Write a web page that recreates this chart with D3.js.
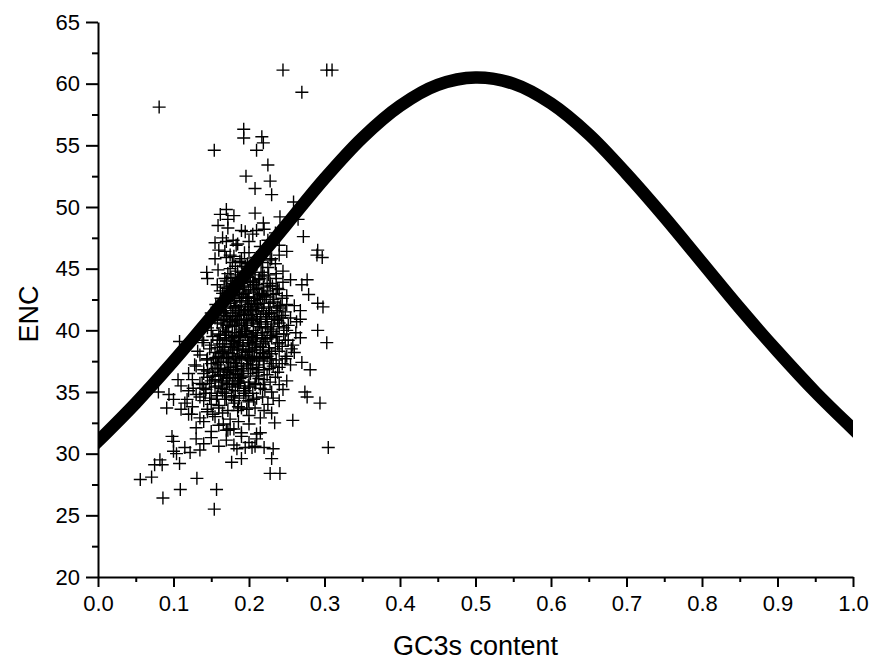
<!DOCTYPE html>
<html>
<head>
<meta charset="utf-8">
<title>ENC plot</title>
<script src="https://d3js.org/d3.v7.min.js"></script>
<style>
  body { margin: 0; background: #fff; }
  text { font-family: "Liberation Sans", Arial, sans-serif; fill: #000; }
</style>
</head>
<body>
<svg width="869" height="661"></svg>
<script>
// expected ENC curve, every 0.05 of GC3s
var curveGC = [0,0.05,0.1,0.15,0.2,0.25,0.3,0.35,0.4,0.45,0.5,0.55,0.6,0.65,0.7,0.75,0.8,0.85,0.9,0.95,1.0];
var curveENC = [31.0,34.1,37.5,41.1,44.9,48.6,52.3,55.6,58.2,59.9,60.5,60.0,58.4,55.9,52.7,49.2,45.5,41.8,38.3,35.0,32.0];

// genes outside the dense cloud: [GC3s, ENC]
var sparseGenes = [
  [0.245,61.1],[0.303,61.1],[0.310,61.1],[0.270,59.3],[0.081,58.1],[0.193,56.3],[0.193,55.6],[0.217,55.7],
  [0.219,55.2],[0.210,54.6],[0.154,54.6],[0.225,53.4],[0.196,52.5],[0.228,52.1],[0.208,51.5],[0.230,51.0],
  [0.259,50.4],[0.170,49.8],[0.162,49.4],[0.208,49.5],[0.172,49.0],[0.159,48.5],[0.241,49.2],[0.265,49.0],
  [0.219,48.7],[0.210,48.1],[0.195,48.0],[0.272,47.6],[0.155,47.1],[0.179,47.3],[0.183,46.9],[0.291,46.5],
  [0.290,46.1],[0.297,45.9],[0.168,46.4],[0.170,45.9],[0.144,44.7],[0.159,44.9],[0.277,44.1],[0.270,43.7],
  [0.279,42.9],[0.158,43.7],
  [0.056,27.9],[0.071,28.1],[0.075,29.1],[0.085,29.1],[0.086,26.4],[0.109,27.1],[0.131,28.0],[0.157,27.1],
  [0.154,25.5],[0.228,28.4],[0.241,28.4],[0.230,29.6],[0.232,30.4],[0.177,29.3],[0.190,29.6],[0.195,30.5],
  [0.204,30.5],[0.208,30.6],[0.184,30.4],[0.215,31.7],[0.234,32.5],[0.258,32.7],[0.305,30.5],[0.294,34.1],
  [0.274,35.0],[0.277,34.6],[0.270,37.4],[0.281,36.8],[0.291,40.0],[0.303,39.0],[0.291,42.2],[0.298,41.9],
  [0.268,41.6],[0.263,40.7],[0.268,39.4],[0.082,29.5],[0.098,31.4],[0.091,33.7],[0.094,34.8],[0.080,35.0],
  [0.106,36.0],[0.108,39.1],[0.104,30.0],[0.122,30.1],[0.135,30.3],[0.108,29.2],
  [0.155,45.8],[0.160,46.5],[0.165,47.5],[0.172,48.3],[0.145,44.2],[0.180,49.3],[0.175,46.1]
];

// genes in the dense cloud: [GC3s, ENC]
var cloudGenes = [
  [0.10,31.0],[0.115,30.5],[0.13,31.2],[0.14,30.8],[0.15,31.3],[0.16,30.6],[0.17,31.1],[0.18,30.7],[0.19,31.4],
  [0.20,30.9],[0.21,31.2],[0.22,30.5],[0.10,30.2],
  [0.13,32.1],[0.15,31.8],[0.16,32.3],[0.17,31.9],[0.18,32.0],[0.19,31.7],[0.20,32.4],[0.21,31.6],[0.14,32.6],
  [0.175,32.0],[0.172,31.9],
  [0.12,33.2],[0.135,32.9],[0.145,33.4],[0.155,33.0],[0.165,33.3],[0.175,32.8],[0.185,33.5],[0.20,33.1],
  [0.215,32.9],[0.23,33.3],[0.11,33.6],
  [0.145,33.6],[0.16,33.7],[0.172,33.5],[0.186,33.8],[0.197,33.6],[0.208,33.7],[0.22,33.5],
  [0.115,34.1],[0.125,33.8],[0.14,34.3],[0.15,34.0],[0.16,33.9],[0.17,34.4],[0.18,34.1],[0.19,33.7],[0.20,34.2],
  [0.21,34.5],[0.225,34.0],[0.24,34.3],[0.10,34.4],
  [0.135,34.6],[0.148,34.5],[0.158,34.7],[0.168,34.4],[0.177,34.6],[0.187,34.5],[0.196,34.7],[0.206,34.4],
  [0.218,34.6],[0.232,34.5],
  [0.12,35.1],[0.13,34.8],[0.14,35.3],[0.15,34.9],[0.155,35.4],[0.165,35.0],[0.17,35.2],[0.18,34.7],[0.185,35.5],
  [0.195,35.1],[0.205,34.9],[0.215,35.3],[0.23,35.0],[0.245,35.2],[0.11,35.5],
  [0.143,35.2],[0.163,35.3],[0.182,35.1],[0.201,35.4],[0.221,35.2],
  [0.138,35.6],[0.148,35.7],[0.16,35.5],[0.171,35.7],[0.178,35.6],[0.189,35.8],[0.199,35.5],[0.209,35.7],
  [0.219,35.6],[0.228,35.8],[0.24,35.6],
  [0.125,36.0],[0.135,35.7],[0.145,36.2],[0.15,35.9],[0.16,36.3],[0.165,35.8],[0.17,36.1],[0.175,36.4],[0.18,35.9],
  [0.19,36.2],[0.20,35.8],[0.21,36.3],[0.22,36.0],[0.235,36.2],[0.25,35.9],[0.155,36.0],
  [0.14,36.5],[0.152,36.6],[0.162,36.4],[0.172,36.6],[0.182,36.5],[0.192,36.7],[0.202,36.5],[0.212,36.6],
  [0.224,36.4],[0.238,36.6],[0.145,36.7],[0.185,36.4],
  [0.13,37.1],[0.14,36.8],[0.15,37.3],[0.155,36.9],[0.16,37.2],[0.168,36.7],[0.175,37.0],[0.18,37.4],[0.185,36.8],
  [0.19,37.1],[0.197,37.3],[0.205,36.9],[0.21,37.2],[0.22,36.8],[0.23,37.3],[0.24,37.0],[0.255,37.2],
  [0.158,36.9],[0.176,37.0],[0.193,36.9],[0.213,37.0],[0.227,36.9],
  [0.144,37.6],[0.153,37.7],[0.163,37.5],[0.172,37.7],[0.182,37.6],[0.19,37.8],[0.20,37.6],[0.21,37.7],
  [0.219,37.5],[0.228,37.7],[0.236,37.6],[0.248,37.7],
  [0.166,37.8],[0.187,37.9],[0.205,37.8],[0.224,37.9],
  [0.135,38.0],[0.145,37.7],[0.155,38.2],[0.16,37.9],[0.165,38.3],[0.17,37.8],[0.178,38.1],[0.185,38.4],[0.19,37.7],
  [0.195,38.0],[0.20,38.3],[0.207,37.9],[0.215,38.2],[0.22,37.8],[0.23,38.1],[0.24,38.3],[0.25,37.9],[0.26,38.2],
  [0.148,38.5],[0.158,38.6],[0.168,38.4],[0.176,38.6],[0.184,38.5],[0.192,38.7],[0.201,38.5],[0.21,38.6],
  [0.218,38.4],[0.226,38.6],[0.235,38.5],[0.244,38.7],[0.256,38.5],
  [0.14,39.0],[0.15,38.8],[0.158,39.2],[0.165,38.9],[0.17,39.3],[0.175,38.7],[0.18,39.1],[0.187,39.4],[0.192,38.8],
  [0.198,39.2],[0.205,38.9],[0.21,39.3],[0.215,38.7],[0.222,39.1],[0.23,39.4],[0.238,38.9],[0.248,39.2],[0.258,38.8],
  [0.161,38.9],[0.181,38.9],[0.20,39.0],[0.219,38.9],[0.24,39.0],
  [0.152,39.5],[0.162,39.6],[0.17,39.4],[0.178,39.6],[0.186,39.5],[0.195,39.7],[0.203,39.5],[0.211,39.6],
  [0.22,39.4],[0.228,39.6],[0.236,39.5],[0.246,39.7],
  [0.173,39.8],[0.191,39.9],[0.209,39.8],[0.229,39.9],
  [0.15,40.0],[0.16,39.7],[0.165,40.2],[0.17,39.9],[0.178,40.3],[0.183,39.8],[0.19,40.1],[0.195,40.4],[0.20,39.7],
  [0.206,40.0],[0.212,40.3],[0.218,39.8],[0.225,40.2],[0.232,39.9],[0.24,40.3],[0.25,40.0],[0.262,39.8],
  [0.158,40.6],[0.166,40.5],[0.174,40.7],[0.181,40.5],[0.19,40.6],[0.198,40.4],[0.206,40.6],[0.214,40.5],
  [0.222,40.7],[0.23,40.5],[0.24,40.6],[0.252,40.4],
  [0.155,41.0],[0.163,40.8],[0.17,41.2],[0.176,40.7],[0.182,41.1],[0.188,41.4],[0.193,40.8],[0.20,41.2],[0.205,40.9],
  [0.21,41.3],[0.216,40.7],[0.222,41.1],[0.23,41.4],[0.238,40.8],[0.245,41.2],[0.255,41.0],[0.268,40.9],
  [0.167,40.9],[0.185,40.9],[0.203,41.0],[0.224,40.9],[0.243,41.0],
  [0.16,41.5],[0.169,41.6],[0.178,41.4],[0.186,41.6],[0.194,41.5],[0.202,41.7],[0.21,41.5],[0.219,41.6],
  [0.227,41.4],[0.236,41.6],[0.248,41.5],
  [0.18,41.8],[0.198,41.9],[0.217,41.8],[0.238,41.9],
  [0.16,42.0],[0.168,41.8],[0.175,42.2],[0.182,41.9],[0.188,42.3],[0.195,41.7],[0.20,42.1],[0.207,42.4],[0.213,41.8],
  [0.22,42.2],[0.226,41.9],[0.233,42.3],[0.24,41.8],[0.25,42.1],[0.26,42.0],
  [0.163,42.6],[0.172,42.5],[0.181,42.7],[0.19,42.6],[0.198,42.4],[0.206,42.6],[0.215,42.5],[0.223,42.7],
  [0.232,42.5],[0.244,42.6],
  [0.165,43.0],[0.172,42.8],[0.18,43.2],[0.187,42.9],[0.193,43.3],[0.20,42.7],[0.206,43.1],[0.212,43.4],[0.218,42.8],
  [0.225,43.2],[0.232,42.9],[0.24,43.3],[0.25,42.8],
  [0.177,42.9],[0.196,43.0],[0.214,42.9],[0.236,43.0],
  [0.167,43.5],[0.176,43.6],[0.185,43.4],[0.194,43.6],[0.202,43.5],[0.21,43.7],[0.219,43.5],[0.228,43.6],[0.238,43.4],
  [0.19,43.8],[0.206,43.9],[0.224,43.8],
  [0.17,44.0],[0.178,43.8],[0.185,44.2],[0.192,43.9],[0.20,44.3],[0.206,43.7],[0.213,44.1],[0.22,44.4],[0.228,43.8],
  [0.236,44.2],[0.245,43.9],[0.255,44.1],
  [0.172,44.6],[0.182,44.5],[0.191,44.7],[0.20,44.6],[0.208,44.5],[0.216,44.7],[0.226,44.5],[0.236,44.6],
  [0.175,45.0],[0.185,44.8],[0.195,45.2],[0.203,44.9],[0.21,45.3],[0.218,44.7],[0.225,45.1],[0.235,45.4],[0.245,44.8],
  [0.19,45.5],
  [0.178,45.5],[0.188,45.6],[0.198,45.4],[0.208,45.6],[0.218,45.5],[0.228,45.7],
  [0.18,46.0],[0.19,45.8],[0.20,46.3],[0.21,45.9],[0.22,46.2],[0.23,45.8],[0.24,46.1],[0.25,46.4],
  [0.185,47.0],[0.20,47.2],[0.215,46.8],[0.225,47.3],[0.24,46.9],[0.17,47.2],
  [0.19,48.1],[0.205,47.8],[0.22,48.2],[0.235,47.9],
  [0.128,37.2],[0.132,38.3],[0.138,39.2],[0.145,40.2],[0.15,41.4],[0.156,42.1],[0.162,43.2],[0.168,44.2],
  [0.12,36.5],[0.126,35.3],[0.118,34.4],[0.124,33.2],[0.142,34.9],[0.152,33.2],[0.166,32.4],[0.186,32.6],
  // the darkest part of the cloud
  [0.164,35.9],[0.171,36.8],[0.178,35.4],[0.183,37.3],[0.188,36.1],[0.194,35.3],[0.199,36.9],[0.204,37.5],
  [0.167,38.7],[0.173,37.4],[0.179,38.9],[0.184,37.1],[0.189,39.6],[0.196,38.2],[0.202,37.2],[0.208,38.8],
  [0.171,40.4],[0.177,39.2],[0.183,40.8],[0.188,39.0],[0.194,40.2],[0.199,41.6],[0.205,39.4],[0.211,40.9],
  [0.176,41.9],[0.181,42.4],[0.187,41.2],[0.192,42.9],[0.197,40.9],[0.203,42.2],[0.209,41.9],[0.215,41.1],
  [0.181,43.7],[0.187,43.1],[0.193,44.4],[0.199,43.2],[0.205,44.0],[0.211,42.1],[0.217,43.0],[0.223,41.3],
  [0.158,37.4],[0.163,38.1],[0.168,39.6],[0.174,36.2],[0.179,36.7],[0.186,35.9],[0.191,38.4],[0.197,39.9],
  [0.203,40.8],[0.209,39.1],[0.214,37.6],[0.219,38.1],[0.224,39.3],[0.229,40.1],[0.213,36.1],[0.208,35.6],
  [0.168,34.9],[0.174,35.6],[0.181,34.3],[0.187,35.7],[0.193,34.9],[0.199,34.3],[0.162,36.9],[0.156,37.8],
  [0.172,41.1],[0.178,42.8],[0.184,42.0],[0.19,41.9],[0.196,42.7],[0.202,43.9],[0.208,43.3],[0.214,44.2],
  [0.216,40.2],[0.221,42.8],[0.226,41.6],[0.231,43.6],[0.234,40.9],[0.227,38.3],[0.232,37.1],[0.237,39.7],
  [0.152,36.3],[0.157,34.4],[0.161,39.2],[0.166,41.4],[0.171,43.4],[0.176,44.3],[0.182,45.2],[0.194,46.3],
  [0.166,36.4],[0.173,38.2],[0.18,37.9],[0.186,38.8],[0.192,36.3],[0.198,37.7],[0.204,38.4],[0.21,36.8],
  [0.169,39.9],[0.175,40.9],[0.181,39.5],[0.187,40.4],[0.193,41.3],[0.199,38.9],[0.205,41.6],[0.211,42.7],
  [0.217,39.4],[0.222,40.3],[0.228,42.2],[0.233,41.1],[0.242,42.0],[0.246,40.2],[0.252,39.2],[0.244,37.3]
];

var xTicks = [0,0.1,0.2,0.3,0.4,0.5,0.6,0.7,0.8,0.9,1.0];
var xMinor = [0.05,0.15,0.25,0.35,0.45,0.55,0.65,0.75,0.85,0.95];
var yTicks = [20,25,30,35,40,45,50,55,60,65];
var yMinor = [22.5,27.5,32.5,37.5,42.5,47.5,52.5,57.5,62.5];

var svg = d3.select("svg"),
    margin = {top: 22, right: 16, bottom: 84, left: 98},
    width = +svg.attr("width") - margin.left - margin.right,
    height = +svg.attr("height") - margin.top - margin.bottom,
    g = svg.append("g").attr("transform", "translate(" + margin.left + "," + margin.top + ")");

var x = d3.scaleLinear().domain([0, 1]).range([0, width]);
var y = d3.scaleLinear().domain([20, 65]).range([height, 0]);

// scatter of genes drawn as plus signs
var genes = sparseGenes.concat(cloudGenes);
g.append("g")
  .selectAll("path")
  .data(genes)
  .enter().append("path")
    .attr("d", "M-6.5,0H6.5M0,-6.5V6.5")
    .attr("transform", function(d) { return "translate(" + x(d[0]) + "," + y(d[1]) + ")"; })
    .attr("stroke", "#000")
    .attr("stroke-width", 1.4)
    .attr("fill", "none");

// expected curve, clipped to the x range so the ends are cut straight
g.append("clipPath").attr("id", "clip")
  .append("rect").attr("x", 0).attr("y", -20).attr("width", width).attr("height", height + 40);

var line = d3.line()
  .x(function(d, i) { return x(curveGC[i]); })
  .y(function(d) { return y(d); })
  .curve(d3.curveCatmullRom);

g.append("path")
  .datum(curveENC)
  .attr("clip-path", "url(#clip)")
  .attr("d", line)
  .attr("fill", "none")
  .attr("stroke", "#000")
  .attr("stroke-width", 12.5)
  .attr("stroke-linecap", "square");

// axes
var xAxis = g.append("g")
  .attr("transform", "translate(0," + height + ")")
  .call(d3.axisBottom(x).tickValues(xTicks).tickSize(10).tickSizeOuter(0).tickPadding(8).tickFormat(d3.format(".1f")));
g.append("g")
  .attr("transform", "translate(0," + height + ")")
  .call(d3.axisBottom(x).tickValues(xMinor).tickSize(5).tickSizeOuter(0).tickFormat(""))
  .select(".domain").remove();

var yAxis = g.append("g")
  .call(d3.axisLeft(y).tickValues(yTicks).tickSize(12).tickSizeOuter(0).tickPadding(6));
g.append("g")
  .call(d3.axisLeft(y).tickValues(yMinor).tickSize(6).tickSizeOuter(0).tickFormat(""))
  .select(".domain").remove();

g.selectAll(".domain, .tick line").attr("stroke", "#000").attr("stroke-width", 2);
xAxis.selectAll("text").attr("font-size", 22).attr("font-family", "Liberation Sans, Arial, sans-serif");
yAxis.selectAll("text").attr("font-size", 22).attr("font-family", "Liberation Sans, Arial, sans-serif");

svg.append("text")
  .attr("x", margin.left + width / 2)
  .attr("y", 655)
  .attr("text-anchor", "middle")
  .attr("font-size", 27)
  .text("GC3s content");

svg.append("text")
  .attr("transform", "translate(38," + 314 + ") rotate(-90)")
  .attr("text-anchor", "middle")
  .attr("font-size", 27)
  .text("ENC");
</script>
</body>
</html>
